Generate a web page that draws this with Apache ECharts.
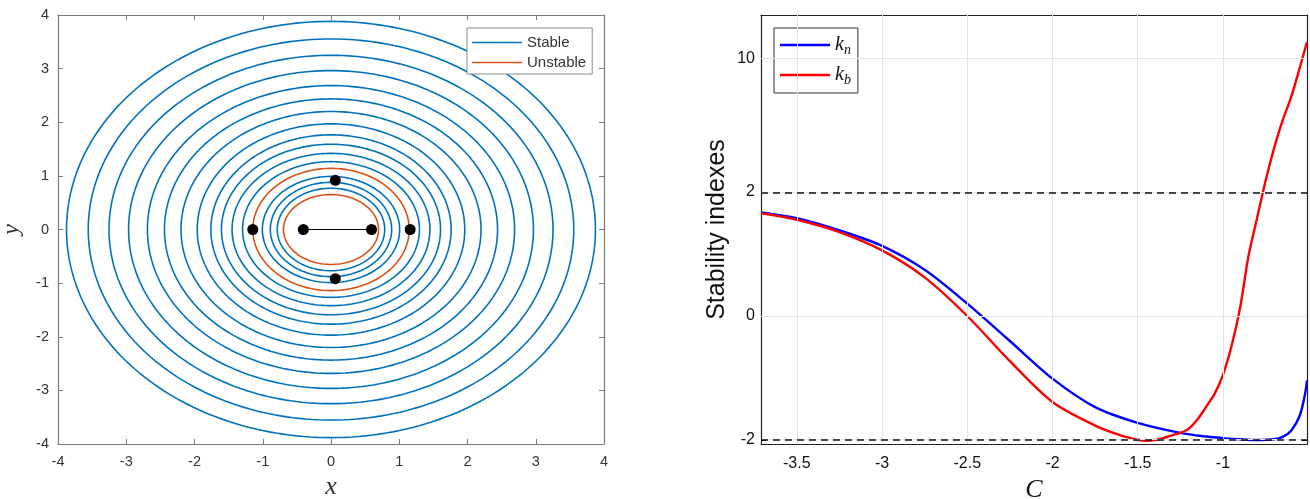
<!DOCTYPE html>
<html>
<head>
<meta charset="utf-8">
<script src="https://cdn.jsdelivr.net/npm/echarts@6/dist/echarts.min.js"></script>
<style>
  html, body { margin: 0; padding: 0; background: #ffffff; }
  #chart { width: 1310px; height: 499px; }
</style>
</head>
<body>
<div id="chart"></div>
<script>
// ---- Left panel: orbit families around the equilibria ----
const stableRx = [3.875, 3.557, 3.253, 2.966, 2.69, 2.44, 2.198, 1.96, 1.76, 1.605, 1.45, 1.296, 1.006, 0.889, 0.787];
const stableRy = [3.881, 3.553, 3.248, 2.963, 2.683, 2.435, 2.2, 1.97, 1.765, 1.59, 1.42, 1.265, 0.99, 0.88, 0.77];
const unstableRx = [1.146, 0.697];
const unstableRy = [1.14, 0.652];
const pointX = [-1.146, -0.405, 0.594, 1.16, 0.063, 0.063];
const pointY = [0, 0, 0, 0, 0.918, -0.918];
const segmentX = [-0.405, 0.594];
const segmentY = [0, 0];

// ---- Right panel: stability indexes versus C ----
const knC = [-3.71, -3.5, -3.25, -3.0, -2.75, -2.5, -2.25, -2.0, -1.75, -1.5, -1.25, -1.1, -1.0, -0.9, -0.8, -0.7, -0.65, -0.6, -0.55, -0.52, -0.507];
const knVal = [1.52, 1.40, 1.17, 0.91, 0.565, 0.145, -0.295, -0.795, -1.27, -1.59, -1.82, -1.91, -1.95, -1.98, -2.0, -1.98, -1.92, -1.77, -1.44, -1.06, -0.82];
const kbC = [-3.71, -3.5, -3.25, -3.0, -2.75, -2.5, -2.25, -2.0, -1.75, -1.6, -1.5, -1.45, -1.4, -1.35, -1.3, -1.25, -1.2, -1.15, -1.1, -1.05, -1.0, -0.95, -0.9, -0.85, -0.8, -0.75, -0.7, -0.65, -0.6, -0.55, -0.507];
const kbVal = [1.50, 1.37, 1.14, 0.84, 0.465, 0.0, -0.55, -1.176, -1.65, -1.88, -1.99, -2.02, -2.0, -1.95, -1.88, -1.82, -1.72, -1.52, -1.27, -1.04, -0.74, -0.36, 0.09, 0.76, 1.40, 2.31, 3.46, 4.82, 6.35, 8.94, 12.1];
const cTicks = [-3.5, -3, -2.5, -2, -1.5, -1];
const kTicks = [-2, 0, 2, 10];
const kLimits = [-2, 2];
const cRange = [-3.71, -0.507];
const kRange = [-2.105, 16.6];

// The index axis is drawn on an asinh scale
const toAxis = v => Math.asinh(v);
const fromAxis = t => Math.sinh(t);

function ellipsePoints(rx, ry) {
  const pts = [];
  const n = 240;
  for (let i = 0; i <= n; i++) {
    const a = (i / n) * Math.PI * 2;
    pts.push([rx * Math.cos(a), ry * Math.sin(a)]);
  }
  return pts;
}

const STABLE = '#0072BD';
const UNSTABLE = '#D95319';
const sans = 'Liberation Sans, Arial, Helvetica, sans-serif';
const serif = 'Liberation Serif, Times New Roman, serif';

const series = [];
stableRx.forEach((rx, i) => {
  series.push({
    type: 'line', name: 'Stable', xAxisIndex: 0, yAxisIndex: 0,
    data: ellipsePoints(rx, stableRy[i]), showSymbol: false, symbol: 'none',
    color: STABLE, lineStyle: { color: STABLE, width: 1.6 }, silent: true, z: 2
  });
});
unstableRx.forEach((rx, i) => {
  series.push({
    type: 'line', name: 'Unstable', xAxisIndex: 0, yAxisIndex: 0,
    data: ellipsePoints(rx, unstableRy[i]), showSymbol: false, symbol: 'none',
    color: UNSTABLE, lineStyle: { color: UNSTABLE, width: 1.6 }, silent: true, z: 2
  });
});
series.push({
  type: 'line', name: 'segment', xAxisIndex: 0, yAxisIndex: 0,
  data: segmentX.map((x, i) => [x, segmentY[i]]), showSymbol: false, symbol: 'none',
  lineStyle: { color: '#000', width: 1 }, silent: true, z: 3
});
series.push({
  type: 'scatter', name: 'points', xAxisIndex: 0, yAxisIndex: 0,
  data: pointX.map((x, i) => [x, pointY[i]]), symbolSize: 11,
  itemStyle: { color: '#000', opacity: 1 }, silent: true, z: 4
});

// grid lines and limit lines of the right panel
series.push({
  type: 'line', name: 'grid', xAxisIndex: 2, yAxisIndex: 2, data: [], silent: true, z: 1,
  markLine: {
    silent: true, symbol: 'none', label: { show: false }, animation: false,
    lineStyle: { color: '#e3e3e3', width: 1, type: 'solid' },
    data: cTicks.map(c => ({ xAxis: c })).concat(kTicks.map(k => ({ yAxis: toAxis(k) })))
  }
});
series.push({
  type: 'line', name: 'kn', xAxisIndex: 2, yAxisIndex: 2,
  data: knC.map((c, i) => [c, toAxis(knVal[i])]), showSymbol: false, symbol: 'none',
  smooth: 0.3, color: '#0000FF', lineStyle: { color: '#0000FF', width: 2.4 }, silent: true, z: 3
});
series.push({
  type: 'line', name: 'kb', xAxisIndex: 2, yAxisIndex: 2,
  data: kbC.map((c, i) => [c, toAxis(kbVal[i])]), showSymbol: false, symbol: 'none',
  smooth: 0.3, color: '#FF0000', lineStyle: { color: '#FF0000', width: 2.4 }, silent: true, z: 4
});
series.push({
  type: 'line', name: 'limits', xAxisIndex: 2, yAxisIndex: 2, data: [], silent: true, z: 5,
  markLine: {
    silent: true, symbol: 'none', label: { show: false }, animation: false,
    lineStyle: { color: '#111', width: 1.5, type: [7, 5] },
    data: kLimits.map(k => ({ yAxis: toAxis(k) }))
  }
});

const leftAxisColor = '#7a7a7a';
const tickInside = (len, color) => ({ show: true, inside: true, length: len, lineStyle: { color: color, width: 1 } });
const boxLine = color => ({ show: true, onZero: false, lineStyle: { color: color, width: 1.2 } });

const option = {
  animation: false,
  backgroundColor: '#ffffff',
  grid: [
    { left: 58, top: 15, width: 546, height: 429, outerBoundsMode: 'none', containLabel: false },
    { left: 761, top: 15, width: 546, height: 429, outerBoundsMode: 'none', containLabel: false }
  ],
  xAxis: [
    {
      gridIndex: 0, type: 'value', min: -4, max: 4, interval: 1, position: 'bottom',
      axisLine: boxLine(leftAxisColor),
      axisTick: tickInside(5, leftAxisColor),
      axisLabel: { color: '#333', fontFamily: sans, fontSize: 14.5, margin: 10 },
      splitLine: { show: false },
      name: 'x', nameLocation: 'middle', nameGap: 30,
      nameTextStyle: { fontFamily: serif, fontStyle: 'italic', fontSize: 26, color: '#333' }
    },
    {
      gridIndex: 0, type: 'value', min: -4, max: 4, interval: 1, position: 'top',
      axisLine: boxLine(leftAxisColor),
      axisTick: tickInside(5, leftAxisColor), axisLabel: { show: false }, splitLine: { show: false }
    },
    {
      gridIndex: 1, type: 'value', min: cRange[0], max: cRange[1], position: 'bottom',
      axisLine: boxLine('#222'),
      axisTick: Object.assign(tickInside(5, '#222'), { customValues: cTicks }),
      axisLabel: { color: '#111', fontFamily: sans, fontSize: 16, margin: 12, customValues: cTicks },
      splitLine: { show: false },
      name: 'C', nameLocation: 'middle', nameGap: 33,
      nameTextStyle: { fontFamily: serif, fontStyle: 'italic', fontSize: 26, color: '#111' }
    },
    {
      gridIndex: 1, type: 'value', min: cRange[0], max: cRange[1], position: 'top',
      axisLine: boxLine('#222'),
      axisTick: Object.assign(tickInside(5, '#222'), { customValues: cTicks }),
      axisLabel: { show: false }, splitLine: { show: false }
    }
  ],
  yAxis: [
    {
      gridIndex: 0, type: 'value', min: -4, max: 4, interval: 1, position: 'left',
      axisLine: boxLine(leftAxisColor),
      axisTick: tickInside(5, leftAxisColor),
      axisLabel: { color: '#333', fontFamily: sans, fontSize: 14.5, margin: 9 },
      splitLine: { show: false },
      name: 'y', nameLocation: 'middle', nameGap: 34, nameRotate: 90,
      nameTextStyle: { fontFamily: serif, fontStyle: 'italic', fontSize: 24, color: '#333' }
    },
    {
      gridIndex: 0, type: 'value', min: -4, max: 4, interval: 1, position: 'right',
      axisLine: boxLine(leftAxisColor),
      axisTick: tickInside(5, leftAxisColor), axisLabel: { show: false }, splitLine: { show: false }
    },
    {
      gridIndex: 1, type: 'value', min: toAxis(kRange[0]), max: toAxis(kRange[1]), position: 'left',
      axisLine: boxLine('#222'),
      axisTick: Object.assign(tickInside(5, '#222'), { customValues: kTicks.map(toAxis) }),
      axisLabel: {
        color: '#111', fontFamily: sans, fontSize: 16, margin: 6,
        customValues: kTicks.map(toAxis),
        formatter: v => String(Math.round(fromAxis(v)))
      },
      splitLine: { show: false },
      name: 'Stability indexes', nameLocation: 'middle', nameGap: 31, nameRotate: 90,
      nameTextStyle: { fontFamily: sans, fontSize: 25, color: '#111' }
    },
    {
      gridIndex: 1, type: 'value', min: toAxis(kRange[0]), max: toAxis(kRange[1]), position: 'right',
      axisLine: boxLine('#222'),
      axisTick: Object.assign(tickInside(5, '#222'), { customValues: kTicks.map(toAxis) }),
      axisLabel: { show: false }, splitLine: { show: false }
    }
  ],
  legend: [
    {
      data: ['Stable', 'Unstable'], orient: 'vertical', left: 467, top: 28,
      selectedMode: false, icon: 'rect', itemWidth: 50, itemHeight: 1.5, itemGap: 5,
      padding: [7, 6, 4, 5], backgroundColor: '#fff', borderColor: '#8a8a8a', borderWidth: 1,
      textStyle: { fontFamily: sans, fontSize: 15, color: '#333', lineHeight: 15 }
    },
    {
      data: ['kn', 'kb'], orient: 'vertical', left: 774, top: 28,
      selectedMode: false, icon: 'rect', itemWidth: 50, itemHeight: 2.4, itemGap: 7,
      padding: [6, 7, 6, 6], backgroundColor: '#fff', borderColor: '#333', borderWidth: 1,
      formatter: name => name === 'kn' ? '{k|k}{s|n}' : '{k|k}{s|b}',
      textStyle: {
        lineHeight: 22,
        rich: {
          k: { fontFamily: serif, fontStyle: 'italic', fontSize: 20, color: '#111' },
          s: { fontFamily: serif, fontStyle: 'italic', fontSize: 14, color: '#111', padding: [10, 0, 0, 0] }
        }
      }
    }
  ],
  series: series
};

const chart = echarts.init(document.getElementById('chart'), null, { renderer: 'canvas' });
chart.setOption(option);
</script>
</body>
</html>
